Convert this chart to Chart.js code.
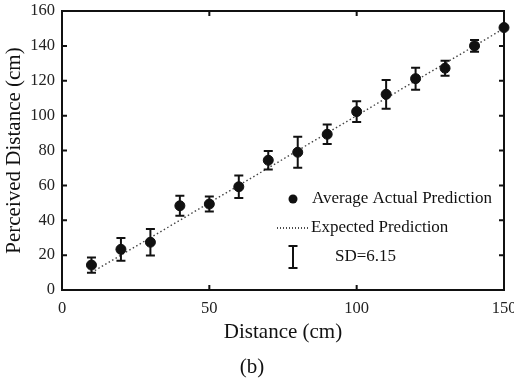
<!DOCTYPE html>
<html>
<head>
<meta charset="utf-8">
<script src="https://cdn.jsdelivr.net/npm/chart.js@4"></script>
<style>
  html, body { margin: 0; padding: 0; background: #fff; }
  #wrap { width: 514px; height: 378px; }
</style>
</head>
<body>
<div id="wrap"><canvas id="distchart" width="514" height="378"></canvas></div>
<script>
// data
const distance = [10, 20, 30, 40, 50, 60, 70, 80, 90, 100, 110, 120, 130, 140, 150];
const meanPerceived = [14.3, 23.3, 27.4, 48.3, 49.3, 59.2, 74.4, 79.0, 89.3, 102.3, 112.2, 121.2, 127.2, 140.0, 150.5];
const sdPerceived = [4.4, 6.5, 7.6, 5.7, 4.3, 6.4, 5.3, 8.9, 5.6, 5.9, 8.2, 6.3, 4.3, 3.3, 0];
const expectedX = [10, 150];
const expectedY = [10, 150];
const xTicks = [0, 50, 100, 150];
const yTicks = [0, 20, 40, 60, 80, 100, 120, 140, 160];

const serif = '"Liberation Serif", "DejaVu Serif", serif';
const ink = '#111';

const framePlugin = {
  id: 'frame',
  afterDatasetsDraw(chart) {
    const ctx = chart.ctx;
    const xs = chart.scales.x, ys = chart.scales.y;
    ctx.save();
    ctx.strokeStyle = ink;
    // error bars
    ctx.lineWidth = 2;
    distance.forEach((d, i) => {
      if (!sdPerceived[i]) return;
      const px = xs.getPixelForValue(d);
      const top = ys.getPixelForValue(meanPerceived[i] + sdPerceived[i]);
      const bot = ys.getPixelForValue(meanPerceived[i] - sdPerceived[i]);
      ctx.beginPath();
      ctx.moveTo(px, top); ctx.lineTo(px, bot);
      ctx.moveTo(px - 4.5, top); ctx.lineTo(px + 4.5, top);
      ctx.moveTo(px - 4.5, bot); ctx.lineTo(px + 4.5, bot);
      ctx.stroke();
    });
    ctx.restore();
  },
  afterDraw(chart) {
    const ctx = chart.ctx;
    const xs = chart.scales.x, ys = chart.scales.y;
    const a = chart.chartArea;
    ctx.save();
    ctx.strokeStyle = ink;
    ctx.lineWidth = 2;
    ctx.strokeRect(a.left, a.top, a.right - a.left, a.bottom - a.top);
    // inward ticks on all four sides
    const len = 5;
    ctx.beginPath();
    xTicks.forEach(v => {
      const px = xs.getPixelForValue(v);
      ctx.moveTo(px, a.bottom); ctx.lineTo(px, a.bottom - len);
      ctx.moveTo(px, a.top); ctx.lineTo(px, a.top + len);
    });
    yTicks.forEach(v => {
      const py = ys.getPixelForValue(v);
      ctx.moveTo(a.left, py); ctx.lineTo(a.left + len, py);
      ctx.moveTo(a.right, py); ctx.lineTo(a.right - len, py);
    });
    ctx.stroke();

    // legend
    ctx.fillStyle = ink;
    ctx.font = '17px ' + serif;
    ctx.textBaseline = 'middle';
    ctx.beginPath();
    ctx.arc(293, 199, 4.5, 0, Math.PI * 2);
    ctx.fill();
    ctx.fillText('Average Actual Prediction', 312, 199);

    ctx.lineWidth = 1.3;
    ctx.setLineDash([1, 2]);
    ctx.beginPath();
    ctx.moveTo(277, 228); ctx.lineTo(310, 228);
    ctx.stroke();
    ctx.setLineDash([]);
    ctx.fillText('Expected Prediction', 311, 228);

    ctx.lineWidth = 2;
    ctx.beginPath();
    ctx.moveTo(293, 246); ctx.lineTo(293, 268);
    ctx.moveTo(288.5, 246); ctx.lineTo(297.5, 246);
    ctx.moveTo(288.5, 268); ctx.lineTo(297.5, 268);
    ctx.stroke();
    ctx.fillText('SD=6.15', 335, 257);
    ctx.restore();
  }
};

const ctx = document.getElementById('distchart').getContext('2d');
const distchart = new Chart(ctx, {
  type: 'scatter',
  data: {
    datasets: [{
      label: 'Average Actual Prediction',
      data: distance.map((d, i) => ({ x: d, y: meanPerceived[i] })),
      backgroundColor: ink,
      borderColor: ink,
      pointRadius: 5,
      pointHoverRadius: 5,
      clip: false,
      order: 0
    }, {
      type: 'line',
      label: 'Expected Prediction',
      data: expectedX.map((d, i) => ({ x: d, y: expectedY[i] })),
      borderColor: '#444',
      borderWidth: 1.4,
      borderDash: [1.5, 2.5],
      pointRadius: 0,
      fill: false,
      order: 1
    }]
  },
  options: {
    responsive: false,
    animation: false,
    layout: { padding: { left: 0, right: 10, top: 11, bottom: 0 } },
    plugins: {
      legend: { display: false },
      tooltip: { enabled: false },
      title: {
        display: true,
        position: 'bottom',
        text: '(b)',
        color: ink,
        font: { family: serif, size: 21, weight: 'normal', lineHeight: 1 },
        padding: { top: 0, bottom: 0.5 }
      }
    },
    scales: {
      x: {
        type: 'linear',
        min: 0, max: 150,
        afterBuildTicks: s => { s.ticks = xTicks.map(v => ({ value: v })); },
        afterFit: s => { s.height = 66.5; s.paddingLeft = 0; s.paddingRight = 0; },
        grid: { display: false, drawTicks: false },
        border: { display: false },
        ticks: { color: '#222', padding: 9, maxRotation: 0, font: { family: serif, size: 16.5 } },
        title: {
          display: true, text: 'Distance (cm)', color: ink,
          font: { family: serif, size: 21 }, padding: { top: 0, bottom: 11.9 }
        }
      },
      y: {
        min: 0, max: 160,
        afterBuildTicks: s => { s.ticks = yTicks.map(v => ({ value: v })); },
        afterFit: s => { s.width = 62; s.paddingTop = 0; s.paddingBottom = 0; },
        grid: { display: false, drawTicks: false },
        border: { display: false },
        ticks: { color: '#222', padding: 7, font: { family: serif, size: 16.5 } },
        title: {
          display: true, text: 'Perceived Distance (cm)', color: ink,
          font: { family: serif, size: 21 }, padding: { top: 1.4, bottom: 0 }
        }
      }
    }
  },
  plugins: [framePlugin]
});
</script>
</body>
</html>
